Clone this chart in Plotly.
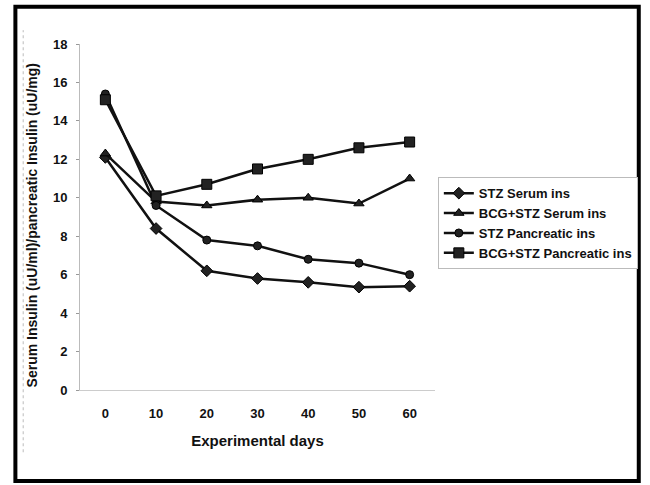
import plotly.graph_objects as go

days = [0, 10, 20, 30, 40, 50, 60]
stz_serum = [12.1, 8.4, 6.2, 5.8, 5.6, 5.35, 5.4]
bcg_stz_serum = [12.3, 9.8, 9.6, 9.9, 10.0, 9.7, 11.0]
stz_pancreatic = [15.4, 9.6, 7.8, 7.5, 6.8, 6.6, 6.0]
bcg_stz_pancreatic = [15.1, 10.1, 10.7, 11.5, 12.0, 12.6, 12.9]

series_names = ["STZ Serum ins", "BCG+STZ Serum ins", "STZ Pancreatic ins", "BCG+STZ Pancreatic ins"]
y_ticks = [0, 2, 4, 6, 8, 10, 12, 14, 16, 18]
y_title = "Serum Insulin (uU/ml)/pancreatic Insulin (uU/mg)"
x_title = "Experimental days"

FONT = "Liberation Sans, Arial, sans-serif"

fig = go.Figure()
specs = [
    (stz_serum, "diamond", 9),
    (bcg_stz_serum, "triangle-up", 9),
    (stz_pancreatic, "circle", 8),
    (bcg_stz_pancreatic, "square", 10),
]
for name, (vals, sym, sz) in zip(series_names, specs):
    fig.add_trace(go.Scatter(
        x=days, y=vals, name=name, mode="lines+markers",
        line=dict(color="#111111", width=2.5),
        marker=dict(symbol=sym, size=sz, color="#222222",
                    line=dict(color="#000000", width=1)),
    ))

fig.update_layout(
    width=650, height=485,
    margin=dict(l=80, r=213, t=44, b=95),
    paper_bgcolor="white", plot_bgcolor="white",
    font=dict(family=FONT, size=13, color="#111111", weight="bold"),
    showlegend=True,
    legend=dict(
        x=1.008, y=0.615, xanchor="left", yanchor="top",
        bgcolor="white", bordercolor="#bbbbbb", borderwidth=1,
        font=dict(family=FONT, size=13, color="#111111", weight="bold"),
        tracegroupgap=0, itemwidth=30,
    ),
    xaxis=dict(
        range=[-5, 65], tickvals=days, ticktext=[str(d) for d in days],
        showgrid=False, zeroline=False,
        showline=True, linecolor="#cccccc", linewidth=1,
        ticks="", ticklabelstandoff=11,
        tickfont=dict(size=13),
        title=dict(text=x_title, font=dict(size=15), standoff=15),
    ),
    yaxis=dict(
        range=[0, 18], tickvals=y_ticks,
        showgrid=False, zeroline=False,
        showline=True, linecolor="#bbbbbb", linewidth=1,
        ticks="outside", ticklen=3, tickcolor="#999999",
        tickfont=dict(size=13), ticklabelstandoff=6,
    ),
)

fig.add_annotation(
    text=y_title, textangle=-90, showarrow=False,
    xref="paper", yref="paper", x=-0.134, y=0.477,
    xanchor="center", yanchor="middle",
    font=dict(family=FONT, size=14, color="#111111", weight="bold"),
)

# scanned page frame
fig.add_shape(type="rect", xref="paper", yref="paper",
              x0=-0.182, x1=1.574, y0=-0.263, y1=1.108,
              line=dict(color="#000000", width=4), fillcolor="rgba(0,0,0,0)")
fig.add_shape(type="line", xref="paper", yref="paper",
              x0=-0.16, x1=-0.16, y0=-0.18, y1=1.04,
              line=dict(color="#bbbbbb", width=1, dash="dot"))

fig.write_html("out.html", config={"displayModeBar": False},
               post_script="document.body.style.margin='0px';")
